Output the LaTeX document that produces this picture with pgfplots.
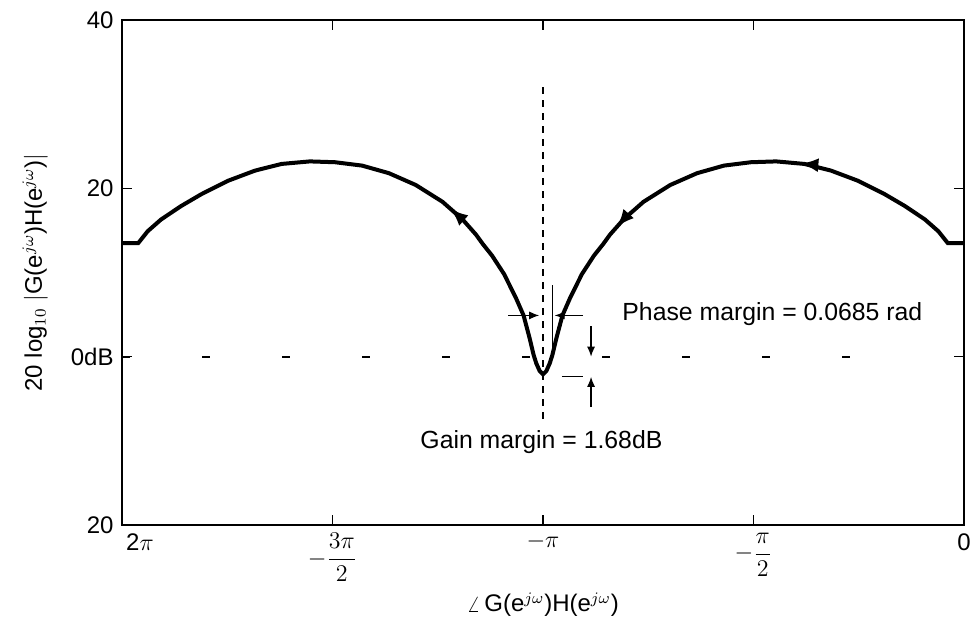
\documentclass[border=0pt,12pt]{standalone}
\usepackage{fontspec}
\setmainfont{Liberation Sans}
\usepackage{pgfplots}
\pgfplotsset{compat=1.18}
\usetikzlibrary{decorations.markings,arrows.meta}
\begin{document}
\begin{tikzpicture}
\begin{axis}[
  scale only axis, width=421pt, height=252.5pt,
  xmin=-6.2832, xmax=0, ymin=-20, ymax=40,
  axis line style={line width=0.9pt},
  tick align=inside, major tick length=5pt,
  tick style={line width=0.8pt, black},
  xtick={-6.2832,-4.7124,-3.1416,-1.5708,0},
  xticklabels={\hspace*{18pt}2$\pi$, $-\displaystyle\frac{3\pi}{2}$, $-\pi$, $-\displaystyle\frac{\pi}{2}$, 0},
  ytick={-20,0,20,40}, yticklabels={20,0dB,20,40},
  /pgf/number format/assume math mode=true,
  xlabel={$\angle$\,G(e$^{j\omega}$)H(e$^{j\omega}$)},
  ylabel={20 log$_{10}$ $\bigl|$G(e$^{j\omega}$)H(e$^{j\omega}$)$\bigr|$},
  xlabel style={at={(axis description cs:0.5,-0.158)}, anchor=center},
  ylabel style={at={(axis description cs:-0.103,0.5)}, anchor=center},
  clip=false,
]
\addplot[line width=2pt, black, postaction={decorate},
  decoration={markings,
    mark=at position 0.168 with {\arrow{Latex[length=9pt,width=7pt]}},
    mark=at position 0.35 with {\arrow{Latex[length=9pt,width=7pt]}},
    mark=at position 0.674 with {\arrow{Latex[length=9pt,width=7pt]}}}]
coordinates {
(0,13.5) (-0.1216,13.5) (-0.1916,14.9) (-0.2916,16.3) (-0.4416,17.9)
(-0.5916,19.3) (-0.7916,20.9) (-0.9916,22.1) (-1.1916,22.9) (-1.4016,23.2)
(-1.5916,23.1) (-1.7916,22.7) (-1.9916,21.8) (-2.1916,20.4) (-2.3916,18.4)
(-2.5416,16.3) (-2.6416,14.5) (-2.6916,13.4) (-2.7616,12.0) (-2.8516,9.8)
(-2.9416,6.9) (-2.9966,4.9) (-3.0416,2.2) (-3.0716,0.2) (-3.0916,-0.8)
(-3.1166,-1.7) (-3.1416,-2.1)
(-3.1666,-1.7) (-3.1916,-0.8) (-3.2116,0.2) (-3.2416,2.2) (-3.2866,4.9)
(-3.3416,6.9) (-3.4316,9.8) (-3.5216,12.0) (-3.5916,13.4) (-3.6416,14.5)
(-3.7416,16.3) (-3.8916,18.4) (-4.0916,20.4) (-4.2916,21.8) (-4.4916,22.7)
(-4.6916,23.1) (-4.8816,23.2) (-5.0916,22.9) (-5.2916,22.1) (-5.4916,20.9)
(-5.6916,19.3) (-5.8416,17.9) (-5.9916,16.3) (-6.0916,14.9) (-6.1616,13.5)
(-6.2832,13.5)
};
% annotations
\draw[line width=0.9pt, dash pattern={on 3.5pt off 3pt}] (axis cs:-3.1416,32) -- (axis cs:-3.1416,-8);
\draw[line width=0.9pt, dash pattern={on 4pt off 36pt}] (axis cs:-6.2832,0) -- (axis cs:-0.55,0);
\draw[line width=0.6pt] (axis cs:-3.0731,8.5) -- (axis cs:-3.0731,0);
\draw[line width=0.6pt, -{Latex[length=5pt,width=4pt]}] (axis cs:-3.402,4.9) -- (axis cs:-3.17,4.9);
\draw[line width=0.6pt, -{Latex[length=5pt,width=4pt]}] (axis cs:-2.843,4.9) -- (axis cs:-3.055,4.9);
\draw[line width=0.6pt, -{Latex[length=5pt,width=4pt]}] (axis cs:-2.783,3.6) -- (axis cs:-2.783,0);
\draw[line width=0.6pt] (axis cs:-3.0,-2.4) -- (axis cs:-2.843,-2.4);
\draw[line width=0.6pt, -{Latex[length=5pt,width=4pt]}] (axis cs:-2.783,-6) -- (axis cs:-2.783,-2.4);
\node[anchor=west, inner sep=0pt, font=\fontsize{12.4}{14}\selectfont] at (axis cs:-2.552,5.1) {Phase margin = 0.0685 rad};
\node[anchor=west, inner sep=0pt, font=\fontsize{12.4}{14}\selectfont] at (axis cs:-4.059,-10.2) {Gain margin = 1.68dB};
\end{axis}
\pgfresetboundingbox
\path ([shift={(-61pt,-49.5pt)}]current axis.south west) rectangle ([shift={(7.5pt,10pt)}]current axis.north east);
\end{tikzpicture}
\end{document}
